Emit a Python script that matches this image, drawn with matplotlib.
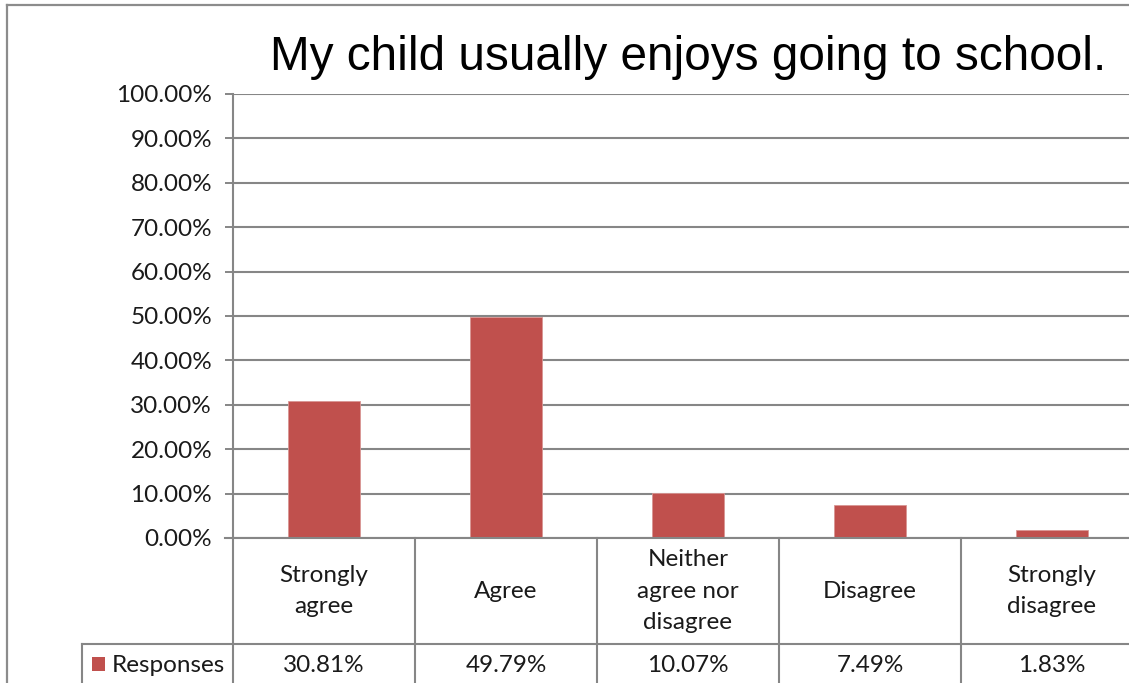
import matplotlib
matplotlib.use('Agg')
import matplotlib.pyplot as plt
import matplotlib.transforms as mtransforms
from matplotlib.patches import Rectangle
from matplotlib.lines import Line2D

categories = ['Strongly\nagree', 'Agree', 'Neither\nagree nor\ndisagree', 'Disagree', 'Strongly\ndisagree']
responses = [30.81, 49.79, 10.07, 7.49, 1.83]
series_name = 'Responses'
title = 'My child usually enjoys going to school.'

W, H = 1129, 683
bar_color = '#C0504D'
line_color = '#868686'
text_color = '#1a1a1a'
fs = 17.5

fig = plt.figure(figsize=(W / 100, H / 100), dpi=100)
fig.patch.set_facecolor('white')


def fx(px):
    return px / W


def fy(py):
    return 1 - py / H


# plot area (right side runs past the picture edge)
ax = fig.add_axes([fx(233), fy(538), fx(1143) - fx(233), fy(94) - fy(538)])
x = list(range(len(categories)))
ax.bar(x, responses, width=0.4, color=bar_color, edgecolor='#d99694', linewidth=0.6, zorder=3)
ax.set_xlim(-0.5, len(categories) - 0.5)
ax.set_ylim(0, 100)
ax.set_yticks(range(0, 101, 10))
ax.set_yticklabels(['%.2f%%' % v for v in range(0, 101, 10)], fontsize=fs, family='Lato', color=text_color)
ax.tick_params(axis='y', direction='out', length=6, width=1.4, color=line_color, pad=9)
ax.tick_params(axis='x', length=0, labelbottom=False)
ax.yaxis.grid(True, color=line_color, linewidth=1.5, zorder=0)
for s in ['top', 'right', 'bottom']:
    ax.spines[s].set_visible(False)
ax.spines['left'].set_color(line_color)
ax.spines['left'].set_linewidth(1.5)
ax.set_axisbelow(True)

tr = mtransforms.blended_transform_factory(ax.transData, fig.transFigure)

ax.text(2, fy(57), title, transform=tr, ha='center', va='center',
        fontsize=34.4, family='Liberation Sans', color='black')

# data table under the plot
lw = 1.5
for i in range(len(categories) + 1):
    fig.add_artist(Line2D([i - 0.5, i - 0.5], [fy(538), fy(H + 5)], transform=tr,
                          color=line_color, linewidth=lw, clip_on=False))
fig.add_artist(Line2D([fx(82), fx(1140)], [fy(644), fy(644)], color=line_color, linewidth=lw))
fig.add_artist(Line2D([fx(82), fx(82)], [fy(644), fy(H + 5)], color=line_color, linewidth=lw))
fig.add_artist(Line2D([fx(225), fx(1140)], [fy(538), fy(538)], color=line_color, linewidth=lw))

for i, (c, v) in enumerate(zip(categories, responses)):
    ax.text(i, fy(591), c, transform=tr, ha='center', va='center', fontsize=fs,
            family='Lato', color=text_color, linespacing=1.6)
    ax.text(i, fy(665), '%.2f%%' % v, transform=tr, ha='center', va='center', fontsize=fs,
            family='Lato', color=text_color)

fig.add_artist(Rectangle((fx(92), fy(671)), fx(13), fy(657) - fy(671), facecolor=bar_color,
                         edgecolor='none', transform=fig.transFigure))
fig.text(fx(112), fy(665), series_name, ha='left', va='center', fontsize=fs, family='Lato', color=text_color)

# outer chart border
fig.add_artist(Line2D([fx(7), fx(7)], [fy(5), fy(H + 5)], color='#8c8c8c', linewidth=1.6))
fig.add_artist(Line2D([fx(7), fx(W + 5)], [fy(5), fy(5)], color='#8c8c8c', linewidth=1.6))

fig.savefig('out.png', dpi=100)
